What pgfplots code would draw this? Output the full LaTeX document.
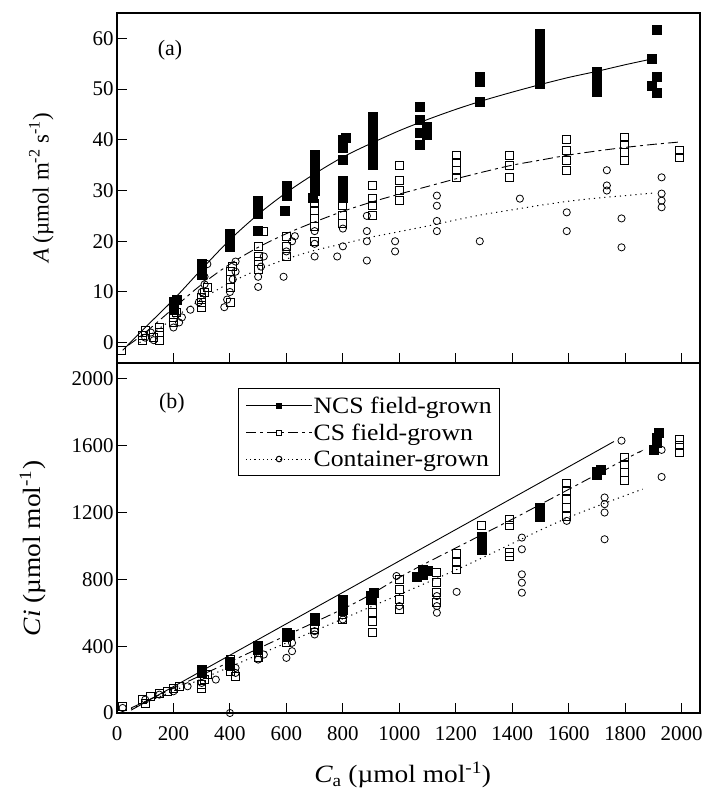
\documentclass[border=0pt]{standalone}
\usepackage{pgfplots}
\pgfplotsset{compat=1.18}
\usepackage{fontspec}
\setmainfont{Liberation Serif}
\newfontfamily\widefont[FakeStretch=1.1]{Liberation Serif}
\begin{document}
\begin{tikzpicture}
\path[use as bounding box] (-117bp,-78bp) rectangle (601bp,713bp);
\pgfplotsset{
  every axis/.append style={
    scale only axis, width=583bp, height=350bp,
    xmin=0, xmax=2065,
    axis line style={line width=1.2bp},
    tick align=inside, xtick pos=lower, ytick pos=left,
    major tick length=10bp,
    tick style={line width=1bp, black},
    /pgf/number format/assume math mode=true,
    /pgf/number format/1000 sep={},
    ticklabel style={font=\fontsize{21}{25}\selectfont},
    xtick={200,400,...,2000},
  },
  ncsm/.style={only marks, mark=square*, mark size=4.5bp, mark options={fill=black, draw=black}},
  csm/.style={only marks, mark=square, mark size=4bp, mark options={line width=0.8bp, draw=black, fill=white}},
  conm/.style={only marks, mark=o, mark size=3.6bp, mark options={line width=0.8bp, draw=black, fill=white}},
  ncsl/.style={no marks, black, line width=0.9bp, smooth},
  csl/.style={no marks, black, line width=0.9bp, dash pattern=on 10bp off 4bp on 3bp off 4bp, smooth},
  conl/.style={no marks, black, line width=1bp, dash pattern=on 1.2bp off 4bp, smooth},
}
% ---------------- top panel ----------------
\begin{axis}[
  at={(0bp,350bp)}, anchor=south west,
  ymin=-4, ymax=65, ytick={0,10,...,60},
  xticklabels={},
  ylabel={{\itshape A} (µmol m\textsuperscript{-2} s\textsuperscript{-1})},
  ylabel style={at={(axis description cs:-0.13,0.5)}, anchor=center, font=\fontsize{23}{27}\selectfont},
]
\addplot[ncsl] coordinates {(20,-1.5)(100,3)(200,8.5)(300,14.5)(400,20.3)(500,25.3)(600,29.6)(700,33.3)(800,36.6)(900,39.3)(1000,41.8)(1100,44)(1200,46)(1300,47.8)(1400,49.4)(1500,50.9)(1600,52.3)(1700,53.5)(1800,54.8)(1900,56)};
\addplot[csl] coordinates {(40,-0.5)(100,2)(200,6.8)(300,11.5)(400,15.5)(500,18.8)(600,21.5)(700,23.8)(800,25.9)(900,27.7)(1000,29.3)(1100,30.8)(1200,32.3)(1300,33.7)(1400,35)(1500,36)(1600,37)(1700,37.8)(1800,38.5)(1900,39.1)(2000,39.6)};
\addplot[conl] coordinates {(80,0)(200,4.8)(300,8.6)(400,11.8)(500,14.4)(600,16.5)(700,18.2)(800,19.5)(900,20.8)(1000,21.9)(1100,23)(1200,24.2)(1300,25.3)(1400,26.2)(1500,27.1)(1600,27.9)(1700,28.5)(1800,29)(1900,29.5)};
\addplot[ncsm] coordinates {
(200,6.5)(200,8)(210,8.5)
(300,13.5)(300,14.5)(300,15.5)
(400,19)(400,20.5)(400,21.5)
(500,22)(500,25.5)(500,27)(500,28)
(595,26)(600,29)(600,30.5)(600,31)
(694,28.5)(700,30)(700,32)(700,34)(700,35.5)(700,37)
(800,28.6)(800,30)(800,32)(800,36)(800,38.5)(800,40)(810,40.5)
(906,35)(906,37)(906,39)(906,41)(906,43)(906,44.5)
(1072,39)(1072,41.5)(1072,44)(1072,46.5)(1097,41)(1097,42.5)
(1285,47.6)(1285,51.5)(1285,52.5)
(1497,51)(1497,53)(1497,55)(1497,56.5)(1497,58)(1497,59.5)(1497,61)
(1700,49.5)(1700,50.5)(1700,51.5)(1700,52.5)(1700,53.5)
(1912,49.2)(1895,50.6)(1912,52.5)(1894,56)(1912,61.7)
};
\addplot[csm] coordinates {
(15,-1.5)
(90,0.5)(90,1.5)(100,2.5)(130,1)(150,0.5)(150,2)(150,3)
(200,4)(200,5)(210,6)
(300,7)(300,8)(300,9)(310,10)(320,11)
(400,8)(400,11)(400,12.5)(400,14)(410,15)
(500,14.5)(500,16)(500,17)(520,22)(500,19)
(600,17)(600,19)(600,21)
(700,20)(700,23)(700,24.5)(700,26)(700,27.5)
(800,23.5)(800,25)(800,27)(800,29.5)(800,31.5)
(906,25)(906,27)(906,28.5)(906,31)
(1002,28)(1002,30)(1002,32)(1002,35)
(1203,32.5)(1203,34)(1203,35.5)(1203,37)
(1391,32.5)(1391,35)(1391,37)
(1593,34)(1593,36)(1593,38)(1593,40)
(1798,36)(1798,37.5)(1798,39)(1798,40.5)
(1993,36.5)(1993,38)
};
\addplot[conm] coordinates {
(100,1)(120,2)(130,0.5)
(200,3)(220,4)(230,5)
(260,6.5)(290,8)(300,10)(310,11.5)(310,13)(320,15.5)
(380,7)(390,8.5)(400,10)(410,12.5)(420,14)(420,16)
(500,11)(500,13)(510,15)(520,17)
(590,13)(600,18)(620,20)(630,21)
(700,17)(700,19.5)(700,22)
(780,17)(800,19)(800,22.5)
(885,16.2)(885,20)(885,22)(885,25)
(985,18)(985,20)
(1133,22)(1133,24)(1133,27)(1133,29)
(1285,20)
(1427,28.4)
(1593,22)(1593,25.7)
(1735,30)(1735,31)(1735,34)
(1787,18.8)(1787,24.5)
(1929,26.7)(1929,28)(1929,29.4)(1929,32.6)
};
\node[font=\fontsize{22}{26}\selectfont] at (axis description cs:0.091,0.894) {(a)};
\end{axis}
% ---------------- bottom panel ----------------
\begin{axis}[
  at={(0bp,0bp)}, anchor=south west,
  ymin=0, ymax=2095, ytick={0,400,...,2000},
  xtick={0,200,...,2000},
  xticklabel style={yshift=-10bp},
  ylabel={{\itshape Ci} (µmol mol\textsuperscript{-1})},
  ylabel style={at={(axis description cs:-0.145,0.47)}, anchor=center, font=\widefont\fontsize{25}{29}\selectfont},
  xlabel={{\itshape C}\textsubscript{a} (µmol mol\textsuperscript{-1})},
  xlabel style={at={(axis description cs:0.49,-0.177)}, anchor=center, font=\widefont\fontsize{25}{29}\selectfont},
  legend style={at={(axis description cs:0.2075,0.9286)}, anchor=north west, draw=black, line width=1.2bp,
    font=\widefont\fontsize{23.5}{27}\selectfont, inner xsep=7bp, inner ysep=7bp, row sep=7bp,
    nodes={inner sep=1bp}, cells={anchor=west}},
  legend image code/.code={\draw[mark repeat=2,mark phase=2,#1] plot coordinates {(0bp,0bp) (33bp,0bp) (66bp,0bp)};},
]
\addlegendimage{black, line width=0.9bp, mark=square*, mark size=2.5bp, mark options={solid, fill=black}}
\addlegendentry{NCS field-grown}
\addlegendimage{black, line width=0.9bp, dash pattern=on 10bp off 4bp on 3bp off 4bp, mark=square, mark size=2.5bp, mark options={solid}}
\addlegendentry{CS field-grown}
\addlegendimage{black, line width=1bp, dash pattern=on 1.2bp off 3bp, mark=o, mark size=2.8bp, mark options={solid}}
\addlegendentry{Container-grown}
\addplot[ncsl, forget plot] coordinates {(50,17)(400,346)(800,722)(1200,1098)(1600,1474)(1760,1625)};
\addplot[csl, forget plot] coordinates {(50,30)(531,410)(850,665)(1048,856)(1416,1174)(1816,1533)(1850,1560)};
\addplot[conl, forget plot] coordinates {(50,25)(450,312)(850,600)(1225,875)(1579,1156)(1862,1340)};
\addplot[ncsm, forget plot] coordinates {
(300,240)(300,260)
(400,290)(400,310)
(500,380)(500,400)
(600,460)(600,480)(610,470)
(700,550)(700,570)
(800,620)(800,650)(800,680)
(900,680)(900,700)(910,720)
(1062,815)(1083,830)(1083,856)(1100,850)
(1292,976)(1292,1010)(1292,1054)
(1497,1174)(1497,1200)(1497,1228)
(1700,1425)(1700,1445)(1715,1455)
(1900,1575)(1912,1617)(1912,1650)(1920,1677)
};
\addplot[csm, forget plot] coordinates {
(20,40)(90,80)(100,60)(120,100)(150,120)(180,130)(200,150)(220,160)
(300,150)(300,170)(310,200)(320,230)
(400,250)(400,280)(400,320)(420,220)
(500,330)(500,360)(500,380)
(600,420)(600,450)(600,480)
(700,500)(700,530)(700,570)
(800,560)(800,590)(800,620)(800,650)
(906,480)(906,550)(906,600)(906,650)(906,690)
(1002,620)(1002,680)(1002,740)(1002,800)
(1133,660)(1133,720)(1133,780)(1133,840)
(1203,860)(1203,900)(1203,958)
(1292,1120)
(1391,940)(1391,964)(1391,1120)(1391,1160)
(1593,1174)(1593,1230)(1593,1280)(1593,1330)(1593,1377)
(1798,1395)(1798,1440)(1798,1490)(1798,1527)
(1993,1557)(1993,1600)(1993,1635)
};
\addplot[conm, forget plot] coordinates {
(20,30)(100,80)(150,110)(200,130)(250,160)(300,180)(350,200)
(400,0)(420,240)(420,270)
(500,320)(520,350)
(600,330)(620,370)(620,420)
(700,470)(700,490)
(800,560)(800,600)
(1000,640)(990,820)
(1133,600)(1133,640)(1133,700)
(1203,725)
(1434,720)(1434,780)(1434,830)(1434,980)(1434,1050)
(1593,1150)
(1727,1040)(1727,1200)(1727,1250)(1727,1290)
(1787,1630)
(1929,1413)(1929,1575)
};
\node[font=\fontsize{22}{26}\selectfont] at (axis description cs:0.094,0.886) {(b)};
\end{axis}
\end{tikzpicture}
\end{document}
